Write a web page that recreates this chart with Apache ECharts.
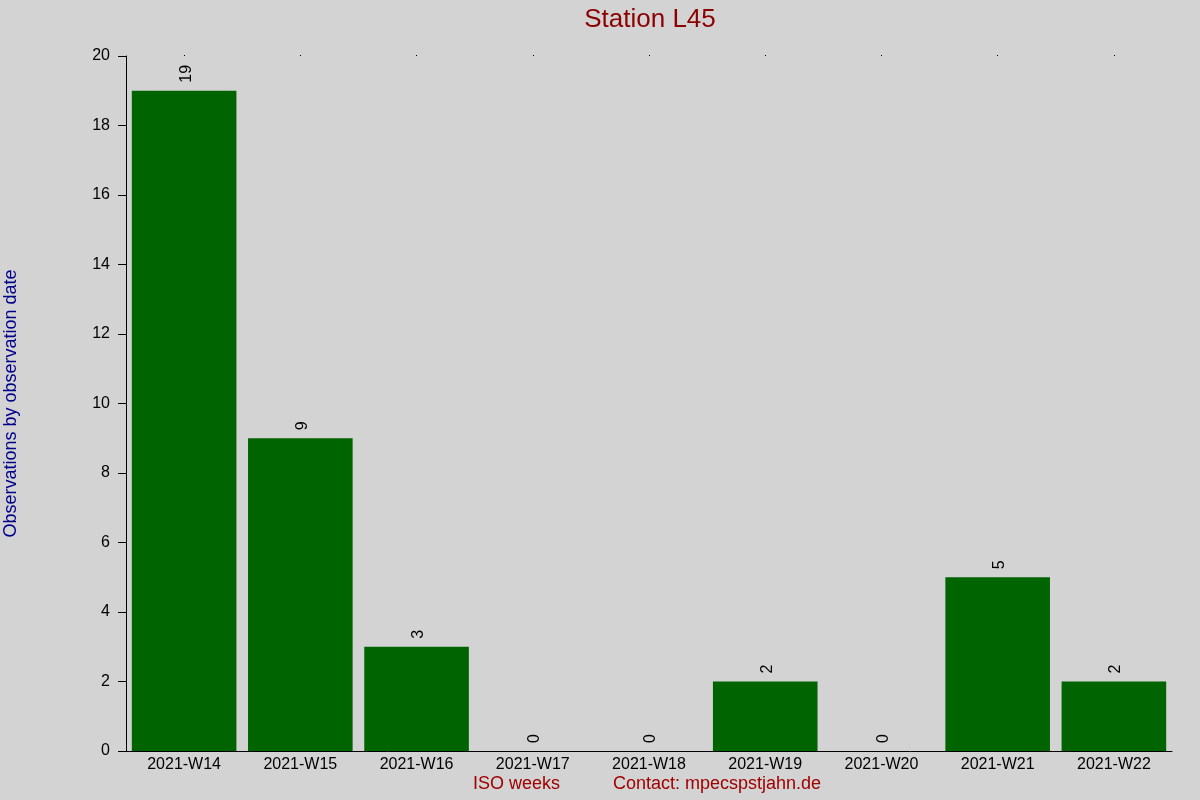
<!DOCTYPE html>
<html>
<head>
<meta charset="utf-8">
<script src="https://cdn.jsdelivr.net/npm/echarts@6/dist/echarts.min.js"></script>
<style>
  html, body { margin: 0; padding: 0; background: #d3d3d3; }
  #main { width: 1200px; height: 800px; }
</style>
</head>
<body>
<div id="main"></div>
<script>
// data
var weeks = ['2021-W14', '2021-W15', '2021-W16', '2021-W17', '2021-W18', '2021-W19', '2021-W20', '2021-W21', '2021-W22'];
var counts = [19, 9, 3, 0, 0, 2, 0, 5, 2];
var yTicks = [0, 2, 4, 6, 8, 10, 12, 14, 16, 18, 20];

var font = 'Liberation Sans, Arial, sans-serif';
var myChart = echarts.init(document.getElementById('main'));

myChart.setOption({
    backgroundColor: '#d3d3d3',
    animation: false,
    title: {
        text: 'Station L45',
        left: 645,
        textAlign: 'center',
        top: 2,
        textStyle: { color: '#8b0000', fontSize: 26, fontWeight: 'normal', fontFamily: font }
    },
    grid: { left: 126, right: 28, top: 56, bottom: 49, containLabel: false, outerBoundsMode: 'none' },
    xAxis: [{
        type: 'category',
        data: weeks,
        axisLine: { lineStyle: { color: '#000', width: 1 } },
        axisTick: { show: false },
        axisLabel: { color: '#000', fontSize: 16, fontFamily: font, margin: 6 }
    }, {
        type: 'category',
        data: weeks,
        position: 'top',
        axisLine: { show: false },
        axisTick: { show: true, alignWithLabel: true, length: 1, lineStyle: { color: '#000' } },
        axisLabel: { show: false }
    }],
    yAxis: {
        type: 'value',
        min: yTicks[0],
        max: yTicks[yTicks.length - 1],
        interval: 2,
        name: 'Observations by observation date',
        nameLocation: 'middle',
        nameGap: 106,
        nameTextStyle: { color: '#00008b', fontSize: 18, fontFamily: font },
        axisLine: { show: true, lineStyle: { color: '#000', width: 1 } },
        axisTick: { show: true, length: 8, lineStyle: { color: '#000' } },
        axisLabel: { color: '#000', fontSize: 16, fontFamily: font, margin: 16 },
        splitLine: { show: false }
    },
    series: [{
        type: 'bar',
        data: counts,
        barCategoryGap: '10%',
        itemStyle: { color: '#006400' },
        label: {
            show: true,
            position: 'top',
            rotate: 90,
            align: 'left',
            verticalAlign: 'middle',
            distance: 8,
            offset: [0, 2],
            color: '#000',
            fontSize: 16,
            fontFamily: font
        }
    }],
    graphic: [{
        type: 'text',
        left: 473,
        top: 775,
        style: { text: 'ISO weeks', fill: '#a00000', font: '18px ' + font }
    }, {
        type: 'text',
        left: 613,
        top: 775,
        style: { text: 'Contact: mpecspstjahn.de', fill: '#a00000', font: '18px ' + font }
    }]
});
</script>
</body>
</html>
